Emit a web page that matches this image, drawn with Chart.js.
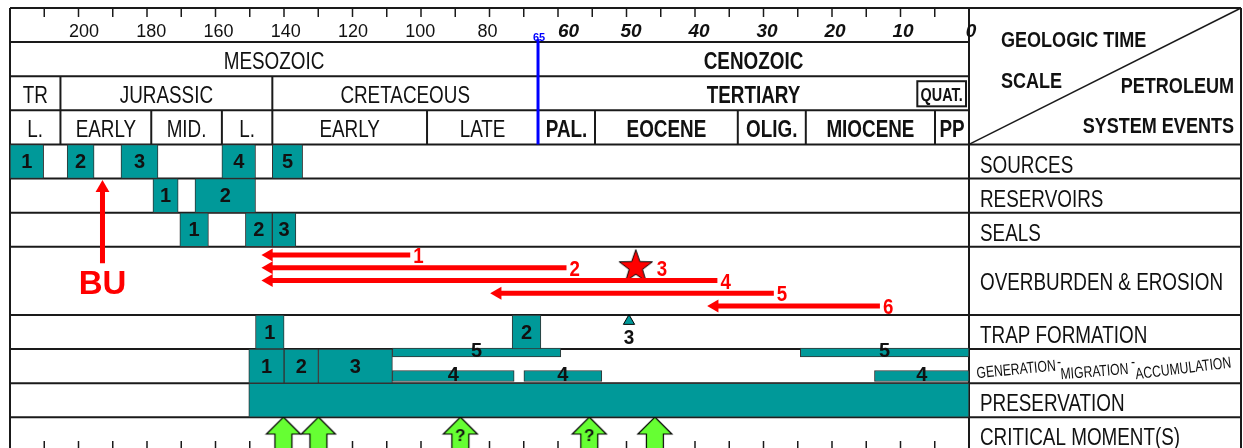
<!DOCTYPE html>
<html>
<head>
<meta charset="utf-8">
<title>Petroleum system events chart</title>
<script src="https://cdn.jsdelivr.net/npm/chart.js@4.4.0/dist/chart.umd.min.js"></script>
<style>
  html, body { margin: 0; padding: 0; background: #fff; }
  canvas { display: block; }
</style>
</head>
<body>
<canvas id="eventsChart" width="1243" height="448"></canvas>
<script>
// ---- Data (ages in Ma) ----
const mesozoicTicks = [200, 180, 160, 140, 120, 100, 80];
const cenozoicTicks = [60, 50, 40, 30, 20, 10, 0];
const eras = [["MESOZOIC", 222, 65], ["CENOZOIC", 65, 0]];
const periods = [["TR", 222, 207], ["JURASSIC", 207, 144], ["CRETACEOUS", 144, 65], ["TERTIARY", 65, 0]];
const epochs = [
  ["L.", 222, 207], ["EARLY", 207, 180], ["MID.", 180, 159], ["L.", 159, 144],
  ["EARLY", 144, 98], ["LATE", 98, 65], ["PAL.", 65, 55], ["EOCENE", 55, 34],
  ["OLIG.", 34, 24], ["MIOCENE", 24, 5], ["PP", 5, 0]
];
const quaternary = ["QUAT.", 7.6, 0];
const kpgBoundary = 65;

const eventRows = ["SOURCES", "RESERVOIRS", "SEALS", "OVERBURDEN & EROSION", "TRAP FORMATION",
  "GENERATION - MIGRATION - ACCUMULATION", "PRESERVATION", "CRITICAL MOMENT(S)"];

const sources = [[222, 212, "1"], [205, 197, "2"], [189, 178, "3"], [159, 149, "4"], [144, 135, "5"]];
const reservoirs = [[179.5, 172, "1"], [167, 149, "2"]];
const seals = [[171.5, 163, "1"], [152, 144, "2"], [144, 137, "3"]];
const overburden = [[145, 103, "1"], [145, 60, "2"], [145, 37, "4"], [77, 28.7, "5"], [37.4, 13.1, "6"]];
const overburdenStar = [49, "3"];
const breakup = [194.5, "BU"];
const traps = [[149, 140.5, "1"], [72.7, 64.5, "2"]];
const trapMarker = [50, "3"];
const generation = [[151, 140.5, "1"], [140.5, 130.3, "2"], [130.3, 108.3, "3"]];
const migration = [[108.3, 61, "5"], [24.8, 0, "5"]];
const accumulation = [[108.3, 72.1, "4"], [69.2, 54, "4"], [13.9, 0, "4"]];
const preservation = [[151, 0, ""]];
const criticalMoments = [140.7, 130.3, 88.1, 56, 46.2];
const criticalUncertain = [false, false, true, true, false];

// ---- Layout / styles ----
const TEAL = "#009999";
const RED = "#ff0000";
const LINE = "#1a1a1a";
const FONT = '"Liberation Sans", Arial, sans-serif';
// y axis: one header/event row = 1 unit, 0 at top
const Y_MAX = 12.9;
const ROW_SPANS = [[4, 5], [5, 6], [6, 7], [7, 9], [9, 10], [10, 11], [11, 12], [12, 13]];
// fraction of plot width for an age; Cenozoic drawn at a larger scale
const AGE_ANCHORS = [[222, 0], [65, 0.5506], [55, 0.61], [0, 1]];

function ageToFraction(age) {
  for (let i = 1; i < AGE_ANCHORS.length; i++) {
    const [a0, f0] = AGE_ANCHORS[i - 1];
    const [a1, f1] = AGE_ANCHORS[i];
    if (age >= a1 || i === AGE_ANCHORS.length - 1) {
      return f0 + (f1 - f0) * (age - a0) / (a1 - a0);
    }
  }
}

class GeoTimeScale extends Chart.LinearScale {
  getPixelForValue(value) {
    return this.left + this.width * ageToFraction(value);
  }
  getValueForPixel(pixel) {
    const f = (pixel - this.left) / this.width;
    for (let i = 1; i < AGE_ANCHORS.length; i++) {
      const [a0, f0] = AGE_ANCHORS[i - 1];
      const [a1, f1] = AGE_ANCHORS[i];
      if (f <= f1 || i === AGE_ANCHORS.length - 1) return a0 + (a1 - a0) * (f - f0) / (f1 - f0);
    }
  }
}
GeoTimeScale.id = "geotime";
GeoTimeScale.defaults = Chart.LinearScale.defaults;
Chart.register(GeoTimeScale);

// condensed text (Arial Narrow look)
function narrowText(ctx, text, x, y, font, align, color, squeeze, angle) {
  ctx.save();
  ctx.font = font;
  ctx.fillStyle = color || "#111";
  ctx.textAlign = align || "center";
  ctx.textBaseline = "alphabetic";
  ctx.translate(x, y);
  if (angle) ctx.rotate(angle * Math.PI / 180);
  ctx.scale(squeeze || 0.82, 1);
  ctx.fillText(text, 0, 0);
  ctx.restore();
}

// point images
function makeStar() {
  const c = document.createElement("canvas");
  c.width = 38; c.height = 36;
  const g = c.getContext("2d");
  g.beginPath();
  for (let i = 0; i < 10; i++) {
    const r = i % 2 === 0 ? 17.5 : 7;
    const a = -Math.PI / 2 + i * Math.PI / 5;
    g.lineTo(19 + r * Math.cos(a), 19 + r * Math.sin(a));
  }
  g.closePath();
  g.fillStyle = RED; g.fill();
  g.strokeStyle = "#000"; g.lineWidth = 1; g.stroke();
  return c;
}
function makeMomentArrow(question) {
  const c = document.createElement("canvas");
  c.width = 38; c.height = 40;
  const g = c.getContext("2d");
  g.beginPath();
  g.moveTo(19, 1); g.lineTo(36, 18); g.lineTo(27.5, 18); g.lineTo(27.5, 40);
  g.lineTo(10.5, 40); g.lineTo(10.5, 18); g.lineTo(2, 18); g.closePath();
  g.fillStyle = "#66ff33"; g.fill();
  g.strokeStyle = "#000"; g.lineWidth = 1.2; g.stroke();
  if (question) {
    g.fillStyle = "#111";
    g.font = "bold 17px " + FONT;
    g.textAlign = "center"; g.textBaseline = "middle";
    g.fillText("?", 19, 20);
  }
  return c;
}
const starImage = makeStar();
const arrowPlain = makeMomentArrow(false);
const arrowQuery = makeMomentArrow(true);

// ---- Datasets ----
function boxSet(rows, rowUnit, thickness, kind) {
  return {
    type: "bar",
    data: rows.map(r => ({ x: [r[0], r[1]], y: rowUnit, tag: r[2] })),
    backgroundColor: TEAL, borderColor: "#333", borderWidth: 1, borderSkipped: false,
    barThickness: thickness, grouped: false, tagKind: kind || "box"
  };
}
function arrowSet(from, to, yFrom, yTo, tag, rotation, radius, kind) {
  return {
    type: "line",
    data: [{ x: from, y: yFrom }, { x: to, y: yTo, tag: tag }],
    borderColor: RED, borderWidth: 5, tension: 0,
    pointStyle: "triangle", pointRotation: rotation, pointRadius: [radius, 0],
    pointBackgroundColor: RED, pointBorderColor: RED, pointBorderWidth: 0,
    tagKind: kind
  };
}

const datasets = [
  boxSet(sources, 4.5, 34),
  boxSet(reservoirs, 5.5, 34),
  boxSet(seals, 6.5, 34),
  boxSet(traps, 9.5, 34),
  boxSet(generation, 10.5, 34),
  boxSet(migration, 10.1, 9, "thin"),
  boxSet(accumulation, 10.79, 11, "thin"),
  boxSet(preservation, 11.5, 34)
];
overburden.forEach((o, i) => {
  const lane = 7.24 + i * 0.375;
  datasets.push(arrowSet(o[0], o[1], lane, lane, o[2], 270, 7.5, "arrow"));
});
datasets.push(arrowSet(breakup[0], breakup[0], 5.28, 7.48, breakup[1], 0, 8, "bu"));
datasets.push({
  type: "scatter",
  data: [{ x: overburdenStar[0], y: 7.57, tag: overburdenStar[1] }],
  pointStyle: starImage, pointRadius: 18, tagKind: "star"
});
datasets.push({
  type: "scatter",
  data: [{ x: trapMarker[0], y: 9.18, tag: trapMarker[1] }],
  pointStyle: "triangle", pointRadius: 6.5,
  pointBackgroundColor: TEAL, pointBorderColor: "#000", pointBorderWidth: 1, tagKind: "trap"
});
datasets.push({
  type: "scatter",
  data: criticalMoments.map(a => ({ x: a, y: 12.55 })),
  pointStyle: criticalUncertain.map(q => q ? arrowQuery : arrowPlain),
  pointRadius: 19
});

// ---- Frame, time scale header and row labels ----
const framePlugin = {
  id: "geoFrame",
  beforeDraw(chart) {
    const ctx = chart.ctx;
    ctx.save();
    ctx.fillStyle = "#fff";
    ctx.fillRect(0, 0, chart.width, chart.height);
    ctx.restore();
  },
  beforeDatasetsDraw(chart) {
    const { ctx, chartArea: a, scales: { x, y } } = chart;
    const px = age => x.getPixelForValue(age);
    const py = u => y.getPixelForValue(u);
    const panelRight = chart.width - 2;
    const seg = (x1, y1, x2, y2) => { ctx.beginPath(); ctx.moveTo(x1, y1); ctx.lineTo(x2, y2); ctx.stroke(); };

    ctx.save();
    ctx.strokeStyle = LINE;
    ctx.lineWidth = 2;
    seg(a.left, py(0), panelRight, py(0));
    [1, 2, 3].forEach(u => seg(a.left, py(u), a.right, py(u)));
    [4, 5, 6, 7, 9, 10, 11, 12].forEach(u => seg(a.left, py(u), panelRight, py(u)));
    seg(a.left, py(0), a.left, a.bottom);
    seg(a.right, py(0), a.right, a.bottom);
    seg(panelRight, py(0), panelRight, a.bottom);
    ctx.lineWidth = 1.5;
    seg(a.right, py(4), panelRight, py(0));
    ctx.lineWidth = 2;
    periods.slice(1).forEach(p => { if (p[1] !== kpgBoundary) seg(px(p[1]), py(2), px(p[1]), py(3)); });
    epochs.slice(1).forEach(e => { if (e[1] !== kpgBoundary) seg(px(e[1]), py(3), px(e[1]), py(4)); });

    // ruler ticks top and bottom
    ctx.lineWidth = 1.5;
    const step = (a.right - a.left) / 28;
    for (let k = 1; k < 28; k++) {
      const tx = a.left + k * step;
      seg(tx, py(0), tx, py(0) + 9);
      seg(tx, a.bottom - 7, tx, a.bottom);
    }

    // QUAT box
    ctx.lineWidth = 2;
    const qx = px(quaternary[1]);
    ctx.strokeRect(qx, py(2) + 5, px(quaternary[2]) - qx - 3, py(3) - py(2) - 9);
    narrowText(ctx, quaternary[0], (qx + px(quaternary[2]) - 3) / 2, py(3) - 9, "bold 18px " + FONT, "center", "#111", 0.8);

    // tick labels
    ctx.fillStyle = "#111";
    ctx.textAlign = "center";
    ctx.textBaseline = "alphabetic";
    ctx.font = "18px " + FONT;
    mesozoicTicks.forEach(t => ctx.fillText(String(t), px(t), py(1) - 5));
    ctx.font = "italic bold 19px " + FONT;
    cenozoicTicks.forEach(t => ctx.fillText(String(t), px(t) + 2, py(1) - 5));

    // era / period / epoch names
    const bandText = (list, row) => list.forEach(b => {
      const bold = b[2] < kpgBoundary ? "bold " : "";
      narrowText(ctx, b[0], (px(b[1]) + px(b[2])) / 2, py(row + 1) - 7, bold + "23px " + FONT);
    });
    bandText(eras, 1);
    bandText(periods, 2);
    bandText(epochs, 3);

    // K/Pg line
    ctx.strokeStyle = "#0000ff";
    ctx.lineWidth = 3;
    seg(px(kpgBoundary), py(1) - 3, px(kpgBoundary), py(4));
    ctx.fillStyle = "#0000ff";
    ctx.font = "bold 11px " + FONT;
    ctx.fillText(String(kpgBoundary), px(kpgBoundary) + 1, py(1) - 1);

    // right panel header
    const hf = "bold 22px " + FONT;
    narrowText(ctx, "GEOLOGIC TIME", 1001, 47, hf, "left");
    narrowText(ctx, "SCALE", 1001, 88, hf, "left");
    narrowText(ctx, "PETROLEUM", 1234, 93, hf, "right");
    narrowText(ctx, "SYSTEM EVENTS", 1234, 133, hf, "right");

    // event row labels
    eventRows.forEach((name, i) => {
      const [top, bottom] = ROW_SPANS[i];
      if (i === 5) {
        const f = "16px " + FONT;
        narrowText(ctx, "GENERATION", 977, py(bottom) - 5, f, "left", "#111", 0.76, -5.5);
        narrowText(ctx, "-", 1057, py(top) + 18, f, "left", "#111", 0.76);
        narrowText(ctx, "MIGRATION", 1061, py(bottom) - 4, f, "left", "#111", 0.76, -4.5);
        narrowText(ctx, "-", 1131, py(top) + 18, f, "left", "#111", 0.76);
        narrowText(ctx, "ACCUMULATION", 1136, py(bottom) - 4, f, "left", "#111", 0.76, -7);
        return;
      }
      const base = bottom - top > 1 ? (py(top) + py(bottom)) / 2 + 9 : py(bottom) - 6;
      narrowText(ctx, name, 980, base, "23px " + FONT, "left");
    });
    ctx.restore();
  },
  afterDatasetsDraw(chart) {
    const ctx = chart.ctx;
    ctx.save();
    chart.data.datasets.forEach((ds, di) => {
      const meta = chart.getDatasetMeta(di);
      ds.data.forEach((d, i) => {
        if (!d.tag) return;
        const el = meta.data[i];
        const kind = ds.tagKind;
        if (kind === "box" || kind === "thin") {
          const c = el.getCenterPoint();
          ctx.font = "bold 20px " + FONT;
          ctx.fillStyle = "#111";
          ctx.textAlign = "center";
          ctx.textBaseline = "middle";
          ctx.fillText(d.tag, c.x, c.y + (kind === "thin" ? -1 : 1));
        } else if (kind === "arrow") {
          narrowText(ctx, d.tag, el.x + 3, el.y + 8, "bold 22px " + FONT, "left", RED, 0.85);
        } else if (kind === "star") {
          narrowText(ctx, d.tag, el.x + 21, el.y + 10, "bold 22px " + FONT, "left", RED, 0.85);
        } else if (kind === "trap") {
          narrowText(ctx, d.tag, el.x, el.y + 23, "bold 21px " + FONT, "center", "#111", 0.9);
        } else if (kind === "bu") {
          ctx.font = "bold 33px " + FONT;
          ctx.fillStyle = RED;
          ctx.textAlign = "center";
          ctx.textBaseline = "alphabetic";
          ctx.fillText(d.tag, el.x, el.y + 31);
        }
      });
    });
    ctx.restore();
  }
};

new Chart(document.getElementById("eventsChart"), {
  type: "bar",
  data: { datasets: datasets },
  options: {
    indexAxis: "y",
    responsive: false,
    animation: false,
    events: [],
    layout: { autoPadding: false, padding: { left: 10, right: 274, top: 8, bottom: 0 } },
    scales: {
      x: { type: "geotime", min: 0, max: 222, reverse: true, offset: false, display: false },
      y: { type: "linear", min: 0, max: Y_MAX, reverse: true, offset: false, display: false }
    },
    plugins: { legend: { display: false }, tooltip: { enabled: false } }
  },
  plugins: [framePlugin]
});
</script>
</body>
</html>
